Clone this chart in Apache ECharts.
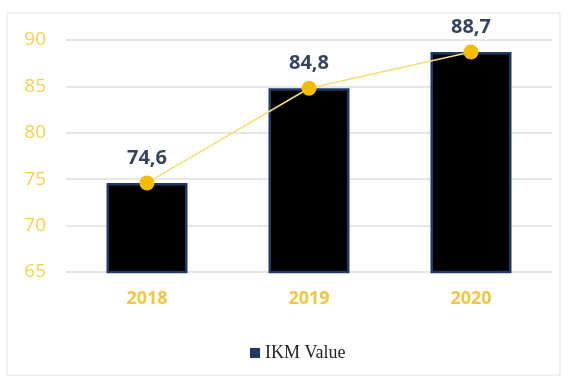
<!DOCTYPE html>
<html><head><meta charset="utf-8">
<script src="https://cdn.jsdelivr.net/npm/echarts@6/dist/echarts.min.js"></script>
<style>html,body{margin:0;padding:0;background:#fff}#c{width:571px;height:380px}</style>
</head><body><div id="c"></div>
<script>
const categories = ['2018', '2019', '2020'];
const ikmValues = [74.6, 84.8, 88.7];
const yTicks = [65, 70, 75, 80, 85, 90];

const chart = echarts.init(document.getElementById('c'), null, {renderer: 'canvas'});
chart.setOption({
  animation: false,
  graphic: [{
    type: 'rect', shape: {x: 7, y: 13, width: 553, height: 362},
    style: {fill: 'none', stroke: '#e3e3e3', lineWidth: 1}, silent: true
  }],
  grid: {left: 66, right: 19, top: 40, bottom: 108},
  legend: {
    data: ['IKM Value'], top: 339, left: 245,
    icon: 'rect', itemWidth: 10, itemHeight: 10, itemGap: 8,
    itemStyle: {color: '#1f3864', borderWidth: 0},
    textStyle: {fontFamily: 'Liberation Serif', fontSize: 18, color: '#222'}
  },
  xAxis: {
    type: 'category', data: categories,
    axisLine: {show: false}, axisTick: {show: false},
    axisLabel: {color: '#f2c542', fontWeight: 'bold', fontSize: 18, fontFamily: 'Open Sans', margin: 18}
  },
  yAxis: {
    type: 'value', min: yTicks[0], max: yTicks[yTicks.length - 1], interval: 5,
    axisLine: {show: false}, axisTick: {show: false},
    axisLabel: {color: '#f5d04f', fontSize: 19, fontFamily: 'Open Sans', margin: 20},
    splitLine: {lineStyle: {color: '#e6e6e6', width: 2}}
  },
  series: [{
    name: 'IKM Value', type: 'bar', data: ikmValues, barWidth: '50%',
    itemStyle: {color: '#000', borderColor: '#1f3864', borderWidth: 2.5},
    z: 2
  }, {
    name: 'line', type: 'line', data: ikmValues,
    lineStyle: {color: '#f7dc7a', width: 1.5},
    symbol: 'circle', symbolSize: 15,
    itemStyle: {color: '#f5bd0a'},
    label: {
      show: true, position: 'top', distance: 7,
      color: '#34435f', fontWeight: 'bold', fontSize: 20, fontFamily: 'Open Sans',
      formatter: p => String(p.value).replace('.', ',')
    },
    z: 3
  }]
});
</script></body></html>
